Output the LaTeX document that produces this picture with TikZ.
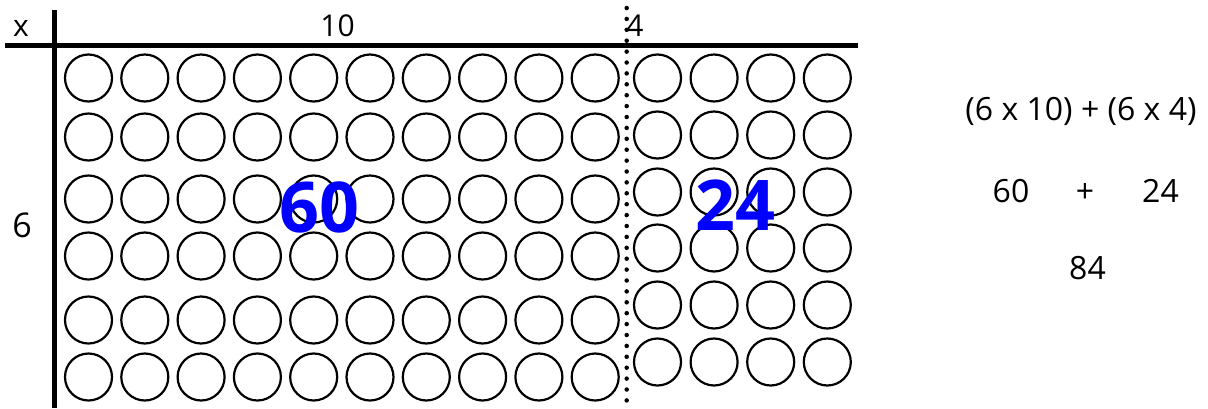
\documentclass[tikz,border=0pt]{standalone}
\usepackage{fontspec}
\setmainfont{Open Sans}
\definecolor{numblue}{RGB}{0,0,255}
\begin{document}
\begin{tikzpicture}[x=1pt,y=-1pt,
  bead/.style={circle,draw=black,line width=2.2pt,minimum size=47pt,inner sep=0pt},
  axislabel/.style={anchor=base,inner sep=0pt,font=\fontsize{30}{31}\selectfont},
  sidelabel/.style={anchor=base,inner sep=0pt,font=\fontsize{34}{36}\selectfont},
  eqtext/.style={anchor=base,inner sep=0pt,font=\fontsize{32}{34}\selectfont},
  bigblue/.style={anchor=base,inner sep=0pt,text=numblue,font=\fontsize{70}{72}\selectfont\bfseries}]
\useasboundingbox (0,0) rectangle (1208,408);
% grid lines
\draw[line width=5pt] (54.5,10) -- (54.5,408);
\draw[line width=5pt] (5,45.5) -- (858,45.5);
% left block 6 x 10
\foreach \i in {0,...,9}{
  \foreach \j/\yy in {1/78,2/137,3/199,4/256,5/320,6/377}{
    \node[bead] (L\i-\j) at ({88.5+56.3*\i},\yy) {};
  }
}
% right block 6 x 4
\foreach \i in {0,...,3}{
  \foreach \j/\yy in {1/78,2/135,3/192,4/248,5/305,6/362}{
    \node[bead] (R\i-\j) at ({657.5+56.6*\i},\yy) {};
  }
}
% dotted divider
\draw[line width=4.5pt,line cap=round,dash pattern=on 0pt off 10.9pt] (626.7,8) -- (626.7,408);
% labels
\node[axislabel] (times) at (21,36) {x};
\node[axislabel] (ten) at (337.5,36) {10};
\node[axislabel] (four) at (635,36) {4};
\node[sidelabel] (six) at (22,237) {6};
\node[bigblue] (sixty) at (319.5,232) {60};
\node[bigblue] (twentyfour) at (735.5,230) {24};
% equations
\node[eqtext] (eq1) at (1081,120) {(6 x 10) + (6 x 4)};
\node[eqtext] (eqa) at (1011,202) {60};
\node[eqtext] (eqp) at (1085,202) {+};
\node[eqtext] (eqb) at (1160.5,202) {24};
\node[eqtext] (eqc) at (1087.5,279) {84};
\end{tikzpicture}
\end{document}
